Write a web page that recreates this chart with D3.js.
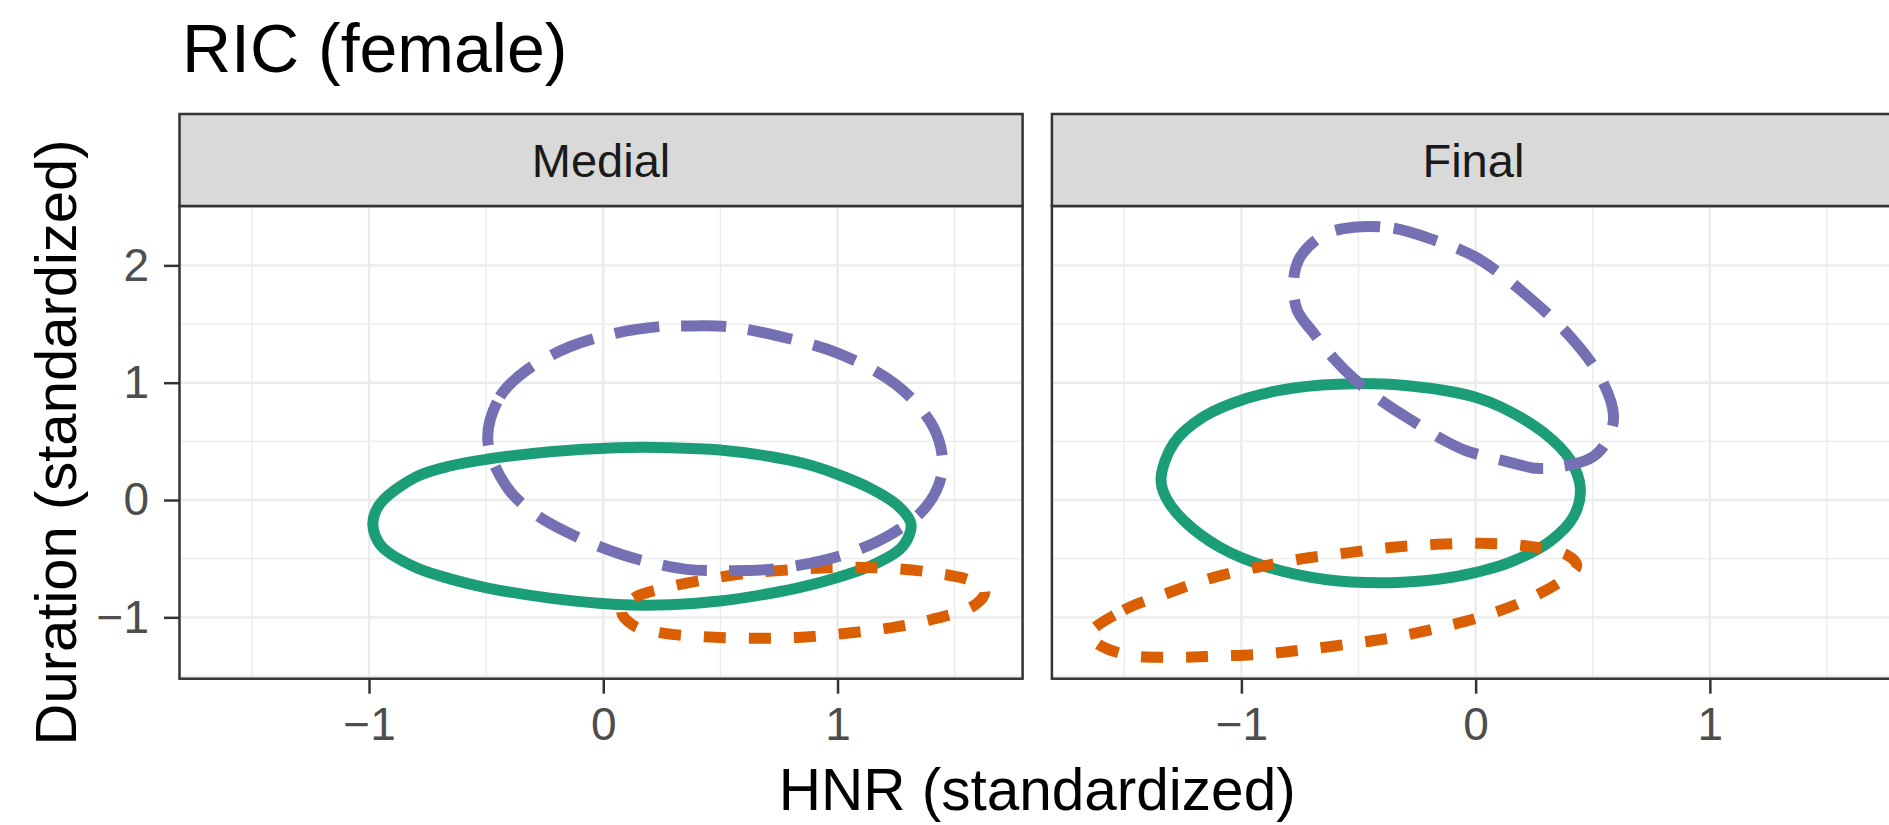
<!DOCTYPE html>
<html>
<head>
<meta charset="utf-8">
<script src="https://cdn.jsdelivr.net/npm/d3@7"></script>
<style>
  html, body { margin: 0; padding: 0; background: #ffffff; overflow: hidden; }
  svg { display: block; }
  text { font-family: "Liberation Sans", Arial, Helvetica, sans-serif; }
</style>
</head>
<body>
<svg id="chart" width="1889" height="825"></svg>
<script>
// ---------------- data ----------------
const chartTitle = "RIC (female)";
const xTitle = "HNR (standardized)";
const yTitle = "Duration (standardized)";
const facets = ["Medial", "Final"];
const groups = ["group1", "group2", "group3"];
const groupColors = ["#1B9E77", "#D95F02", "#7570B3"];
const groupDash = ["none", "22,23", "45,22"];

const xMajorTicks = [-1, 0, 1];
const xMinorTicks = [-1.5, -0.5, 0.5, 1.5];
const yMajorTicks = [-1, 0, 1, 2];
const yMinorTicks = [-1.5, -0.5, 0.5, 1.5, 2.5];

// ellipse outlines, [HNR, Duration]
const medialGroup1 = [
  [-0.984, -0.205], [-0.973, -0.103], [-0.939, 0.000], [-0.797, 0.199], [-0.654, 0.290], [-0.498, 0.347],
  [-0.227, 0.412], [0.057, 0.446], [0.285, 0.446], [0.498, 0.426], [0.711, 0.371],
  [0.854, 0.313], [0.996, 0.222], [1.138, 0.102], [1.250, -0.035], [1.310, -0.180], [1.312, -0.260],
  [1.270, -0.412], [1.138, -0.565], [0.996, -0.662], [0.854, -0.739], [0.711, -0.797],
  [0.498, -0.861], [0.285, -0.893], [0.057, -0.890], [-0.227, -0.836], [-0.498, -0.748],
  [-0.654, -0.672], [-0.797, -0.578], [-0.939, -0.410], [-0.973, -0.307]
];
const medialGroup2 = [
  [0.078, -0.952], [0.130, -0.835], [0.252, -0.755], [0.441, -0.676], [0.612, -0.625],
  [0.825, -0.591], [1.024, -0.574], [1.217, -0.582], [1.408, -0.619], [1.579, -0.696],
  [1.629, -0.781], [1.586, -0.895], [1.394, -1.023], [1.210, -1.094], [1.010, -1.142],
  [0.825, -1.171], [0.626, -1.179], [0.427, -1.165], [0.242, -1.131], [0.130, -1.070]
];
const medialGroup3 = [
  [-0.493, 0.512], [-0.441, 0.881], [-0.327, 1.108], [-0.142, 1.307], [0.050, 1.421],
  [0.239, 1.478], [0.341, 1.483], [0.527, 1.478], [0.726, 1.407], [1.003, 1.250],
  [1.252, 0.980], [1.408, 0.625], [1.449, 0.313], [1.423, 0.085], [1.352, -0.114],
  [1.210, -0.313], [1.024, -0.469], [0.740, -0.585], [0.498, -0.602], [0.356, -0.591],
  [0.249, -0.554], [0.085, -0.469], [-0.114, -0.313], [-0.284, -0.128], [-0.413, 0.114]
];
const finalGroup1 = [
  [-1.343, 0.185], [-1.289, 0.483], [-1.161, 0.710], [-0.976, 0.867], [-0.777, 0.955],
  [-0.521, 0.992], [-0.279, 0.972], [-0.108, 0.925], [0.006, 0.872], [0.105, 0.796],
  [0.290, 0.575], [0.404, 0.341], [0.447, 0.100], [0.418, -0.142], [0.319, -0.350],
  [0.148, -0.530], [0.006, -0.615], [-0.108, -0.660], [-0.207, -0.686], [-0.407, -0.706],
  [-0.634, -0.680], [-0.890, -0.570], [-1.090, -0.405], [-1.246, -0.175], [-1.324, 0.028]
];
const finalGroup2 = [
  [-1.647, -1.142], [-1.502, -0.938], [-1.317, -0.795], [-1.132, -0.668], [-0.933, -0.574],
  [-0.748, -0.503], [-0.563, -0.455], [-0.364, -0.404], [-0.165, -0.378], [0.027, -0.369],
  [0.219, -0.392], [0.390, -0.469], [0.432, -0.554], [0.390, -0.654], [0.233, -0.838],
  [0.049, -0.980], [-0.137, -1.080], [-0.335, -1.165], [-0.521, -1.222], [-0.720, -1.273],
  [-0.905, -1.313], [-1.104, -1.330], [-1.296, -1.341], [-1.488, -1.321], [-1.616, -1.222]
];
const finalGroup3 = [
  [-0.521, 2.325], [-0.350, 2.316], [-0.179, 2.217], [0.000, 2.070], [0.191, 1.790],
  [0.404, 1.392], [0.539, 1.023], [0.589, 0.710], [0.554, 0.483], [0.490, 0.355],
  [0.362, 0.284], [0.262, 0.270], [0.134, 0.327], [-0.040, 0.420], [-0.137, 0.512],
  [-0.265, 0.668], [-0.407, 0.853], [-0.521, 1.037], [-0.606, 1.208], [-0.691, 1.421],
  [-0.762, 1.620], [-0.777, 1.876], [-0.748, 2.074], [-0.649, 2.259]
];
const facetData = [
  [medialGroup1, medialGroup2, medialGroup3],
  [finalGroup1, finalGroup2, finalGroup3]
];

// ---------------- layout ----------------
const svg = d3.select("#chart");
const panelTop = 206, panelBottom = 678.7, stripTop = 114;
const panelRanges = [[179.5, 1022.6], [1051.9, 1894.9]];
const xDomain = [-1.809, 1.790];
const yDomain = [-1.523, 2.506];

const y = d3.scaleLinear().domain(yDomain).range([panelBottom, panelTop]);
const xScales = panelRanges.map(r => d3.scaleLinear().domain(xDomain).range(r));

const borderColor = "#333333";
const gridColor = "#EBEBEB";

facets.forEach((facet, fi) => {
  const x = xScales[fi];
  const [x0, x1] = panelRanges[fi];
  const g = svg.append("g");

  g.append("rect").attr("x", x0).attr("y", panelTop).attr("width", x1 - x0)
    .attr("height", panelBottom - panelTop).attr("fill", "#ffffff");

  // minor grid
  g.selectAll(".vminor").data(xMinorTicks).join("line")
    .attr("x1", d => x(d)).attr("x2", d => x(d))
    .attr("y1", panelTop).attr("y2", panelBottom)
    .attr("stroke", gridColor).attr("stroke-width", 1.3);
  g.selectAll(".hminor").data(yMinorTicks).join("line")
    .attr("x1", x0).attr("x2", x1)
    .attr("y1", d => y(d)).attr("y2", d => y(d))
    .attr("stroke", gridColor).attr("stroke-width", 1.3);
  // major grid
  g.selectAll(".vmajor").data(xMajorTicks).join("line")
    .attr("x1", d => x(d)).attr("x2", d => x(d))
    .attr("y1", panelTop).attr("y2", panelBottom)
    .attr("stroke", gridColor).attr("stroke-width", 2.4);
  g.selectAll(".hmajor").data(yMajorTicks).join("line")
    .attr("x1", x0).attr("x2", x1)
    .attr("y1", d => y(d)).attr("y2", d => y(d))
    .attr("stroke", gridColor).attr("stroke-width", 2.4);

  // ellipses
  const clipId = "clip" + fi;
  svg.append("clipPath").attr("id", clipId).append("rect")
    .attr("x", x0).attr("y", panelTop).attr("width", x1 - x0).attr("height", panelBottom - panelTop);
  const line = d3.line().x(d => x(d[0])).y(d => y(d[1])).curve(d3.curveCatmullRomClosed.alpha(0.5));
  const eg = g.append("g").attr("clip-path", `url(#${clipId})`);
  facetData[fi].forEach((pts, gi) => {
    eg.append("path").attr("d", line(pts))
      .attr("fill", "none")
      .attr("stroke", groupColors[gi])
      .attr("stroke-width", 11)
      .attr("stroke-linecap", "butt")
      .attr("stroke-linejoin", "round")
      .attr("stroke-dasharray", groupDash[gi]);
  });

  // panel border
  g.append("rect").attr("x", x0).attr("y", panelTop).attr("width", x1 - x0)
    .attr("height", panelBottom - panelTop).attr("fill", "none")
    .attr("stroke", borderColor).attr("stroke-width", 2.5);

  // strip
  g.append("rect").attr("x", x0).attr("y", stripTop).attr("width", x1 - x0)
    .attr("height", panelTop - stripTop).attr("fill", "#D9D9D9")
    .attr("stroke", borderColor).attr("stroke-width", 2.5);
  g.append("text").attr("x", (x0 + x1) / 2).attr("y", 177)
    .attr("text-anchor", "middle").attr("font-size", 47).attr("fill", "#1A1A1A")
    .text(facet);

  // x axis
  const xAxis = d3.axisBottom(x).tickValues(xMajorTicks).tickSize(15).tickPadding(13.6)
    .tickFormat(d3.format("d"));
  const xa = g.append("g").attr("transform", `translate(0,${panelBottom})`).call(xAxis);
  xa.select(".domain").remove();
  xa.selectAll(".tick line").attr("stroke", borderColor).attr("stroke-width", 2.5);
  xa.selectAll(".tick text").attr("font-size", 46).attr("fill", "#4D4D4D")
    .attr("font-family", "Liberation Sans, Arial, sans-serif");
});

// y axis (left panel only)
const yAxis = d3.axisLeft(y).tickValues(yMajorTicks).tickSize(15.5).tickPadding(15)
  .tickFormat(d3.format("d"));
const ya = svg.append("g").attr("transform", `translate(${panelRanges[0][0]},0)`).call(yAxis);
ya.select(".domain").remove();
ya.selectAll(".tick line").attr("stroke", borderColor).attr("stroke-width", 2.5);
ya.selectAll(".tick text").attr("font-size", 46).attr("fill", "#4D4D4D")
  .attr("font-family", "Liberation Sans, Arial, sans-serif");

// titles
svg.append("text").attr("x", 182).attr("y", 72).attr("font-size", 68).attr("fill", "#000")
  .text(chartTitle);
svg.append("text").attr("x", (panelRanges[0][0] + panelRanges[1][1]) / 2).attr("y", 810)
  .attr("text-anchor", "middle").attr("font-size", 58.5).attr("fill", "#000").text(xTitle);
svg.append("text").attr("transform", `translate(76,${(panelTop + panelBottom) / 2}) rotate(-90)`)
  .attr("text-anchor", "middle").attr("font-size", 58).attr("fill", "#000").text(yTitle);
</script>
</body>
</html>
